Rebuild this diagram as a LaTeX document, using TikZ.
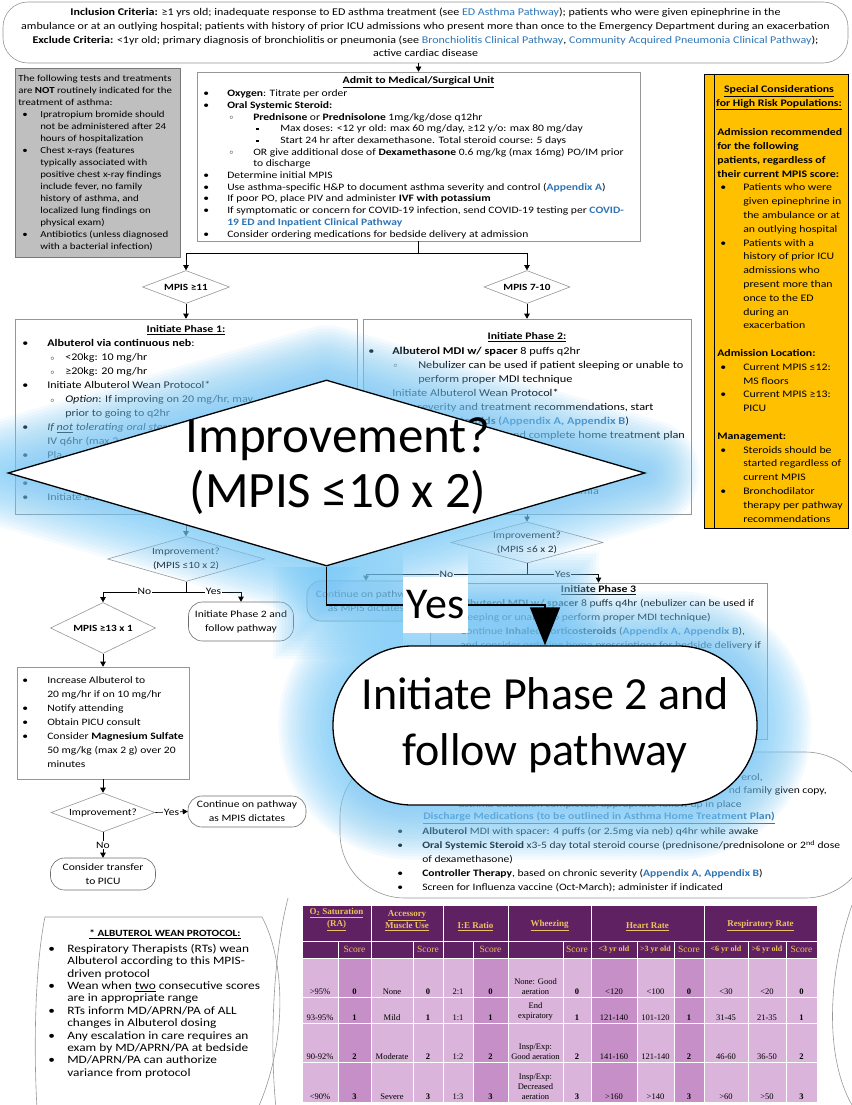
\documentclass[tikz,border=0pt]{standalone}
\usepackage{fontspec}
\setmainfont{Carlito}[FakeStretch=1.18]
\newfontfamily\plainfont{Carlito}
\newfontfamily\tabfont{Liberation Serif}
\newfontfamily\hdrfont[FakeStretch=1.165]{Carlito}
\usetikzlibrary{shapes.geometric,arrows.meta,positioning}

\definecolor{linkblue}{RGB}{46,117,182}
\definecolor{boxgray}{RGB}{150,150,150}
\definecolor{termgray}{RGB}{110,110,110}
\definecolor{notegray}{RGB}{191,191,191}
\definecolor{noteedge}{RGB}{120,120,120}
\definecolor{riskgold}{RGB}{255,192,0}
\definecolor{hdrpurple}{RGB}{96,33,98}
\definecolor{hdrgold}{RGB}{236,192,96}
\definecolor{cellL}{RGB}{218,180,218}
\definecolor{cellM}{RGB}{199,143,199}
\definecolor{glowblue}{RGB}{120,200,246}

\pgfdeclarelayer{glow}
\pgfdeclarelayer{front}
\pgfsetlayers{main,glow,front}

\newcommand{\fsz}[2]{\fontsize{#1}{#2}\selectfont}
\newcommand{\lk}[1]{{\color{linkblue}\textbf{#1}}}
\newcommand{\lkn}[1]{{\color{linkblue}#1}}
\newcommand{\itb}[2]{\hspace*{#1pt}\makebox[#2pt][l]{\textbullet}}
\newcommand{\itc}[2]{\hspace*{#1pt}\makebox[#2pt][l]{\raisebox{0.8pt}{$\scriptstyle\circ$}}}
\newcommand{\its}[2]{\hspace*{#1pt}\makebox[#2pt][l]{\rule[1.6pt]{2.2pt}{2.2pt}}}
\newcommand{\ind}[1]{\hspace*{#1pt}}

\tikzset{
  box/.style={draw=boxgray, fill=white, inner sep=0pt},
  txt/.style={inner sep=0pt, anchor=north west, align=left},
  frag/.style={inner sep=0pt, anchor=base east, font=\fsz{9.8}{14}},
  ttl/.style={inner sep=0pt, font=\fsz{10}{12}\bfseries},
  dia/.style={diamond, aspect=3.5, draw=boxgray, fill=white, inner sep=0pt, align=center, font=\fsz{9.6}{14}},
  term/.style={draw=termgray, fill=white, rounded corners=14pt, align=center, inner sep=0pt, font=\fsz{9.8}{14}},
  lbl/.style={fill=white, inner sep=1pt, font=\fsz{9.8}{12}},
  cell/.style={draw=white, line width=1pt},
  hdrtxt/.style={inner sep=0pt, anchor=south, align=center, text=hdrgold, font=\tabfont\bfseries\fsz{9}{12}},
  subtxt/.style={inner sep=0pt, text=hdrgold, font=\tabfont\fsz{9.5}{11}},
  celltxt/.style={inner sep=2pt, anchor=south, align=center, font=\tabfont\fsz{8.5}{10}},
  bigdia/.style={diamond, draw=black, fill=white, line width=1.3pt, inner sep=0pt},
  bigtxt/.style={inner sep=0pt, align=center, font=\plainfont\fsz{51}{55}},
  bigyes/.style={fill=white, inner sep=0pt, minimum width=65pt, minimum height=56pt, font=\plainfont\fsz{44}{50}},
  bigterm/.style={draw=black, fill=white, line width=1.3pt, rounded corners=79pt, minimum width=424pt, minimum height=159pt, align=center, inner sep=0pt, font=\plainfont\fsz{46}{56}},
  bigline/.style={black, line width=1.3pt}
}

\begin{document}
\begin{tikzpicture}[x=1pt,y=-1pt,>={Triangle[length=5pt,width=5.5pt]},line width=0.6pt]
\useasboundingbox (0,0) rectangle (851,1105);

% criteria
\node[draw=boxgray, fill=white, rounded corners=25pt, minimum width=845pt, minimum height=61pt, inner sep=0pt, align=center, font=\hdrfont\fsz{10.3}{13.8}] (hdr) at (425.5,32.5)
  {\textbf{Inclusion Criteria:} ≥1 yrs old; inadequate response to ED asthma treatment (see \lkn{ED Asthma Pathway}); patients who were given epinephrine in the\\
   ambulance or at an outlying hospital; patients with history of prior ICU admissions who present more than once to the Emergency Department during an exacerbation\\
   \textbf{Exclude Criteria:} <1yr old; primary diagnosis of bronchiolitis or pneumonia (see \lkn{Bronchiolitis Clinical Pathway}, \lkn{Community Acquired Pneumonia Clinical Pathway});\\
   active cardiac disease};

% not indicated
\node[draw=noteedge, fill=notegray, minimum width=165pt, minimum height=189pt, inner sep=0pt] (note) at (97.5,162.5) {};
\node[txt, font=\fsz{9.2}{12}] (notetxt) at (15,74.5)
  {\ind{3}The following tests and treatments\\
   \ind{3}are \textbf{NOT} routinely indicated for the\\
   \ind{3}treatment of asthma:\\
   \itb{7}{18}Ipratropium bromide should\\
   \ind{25}not be administered after 24\\
   \ind{25}hours of hospitalization\\
   \itb{7}{18}Chest x-rays (features\\
   \ind{25}typically associated with\\
   \ind{25}positive chest x-ray findings\\
   \ind{25}include fever, no family\\
   \ind{25}history of asthma, and\\
   \ind{25}localized lung findings on\\
   \ind{25}physical exam)\\
   \itb{7}{18}Antibiotics (unless diagnosed\\
   \ind{25}with a bacterial infection)};

% admit
\node[box, minimum width=443pt, minimum height=169pt] (admit) at (418.5,156.5) {};
\node[ttl] (admitttl) at (418.5,82) {\underline{Admit to Medical/Surgical Unit}};
\node[txt, font=\fsz{9.8}{11.7}] (admittxt) at (197,89.5)
  {\itb{6}{24}\textbf{Oxygen}: Titrate per order\\
   \itb{6}{24}\textbf{Oral Systemic Steroid:}\\
   \itc{32}{24}\textbf{Prednisone} or \textbf{Prednisolone} 1mg/kg/dose q12hr\\
   \its{59}{24}Max doses: <12 yr old: max 60 mg/day, ≥12 y/o: max 80 mg/day\\
   \its{59}{24}Start 24 hr after dexamethasone. Total steroid course: 5 days\\
   \itc{32}{24}OR give additional dose of \textbf{Dexamethasone} 0.6 mg/kg (max 16mg) PO/IM prior\\
   \ind{56}to discharge\\
   \itb{6}{24}Determine initial MPIS\\
   \itb{6}{24}Use asthma-specific H\&P to document asthma severity and control (\lk{Appendix A})\\
   \itb{6}{24}If poor PO, place PIV and administer \textbf{IVF with potassium}\\
   \itb{6}{24}If symptomatic or concern for COVID-19 infection, send COVID-19 testing per \lk{COVID-}\\
   \ind{30}\lk{19 ED and Inpatient Clinical Pathway}\\
   \itb{6}{24}Consider ordering medications for bedside delivery at admission};

% high risk
\node[draw=black, fill=riskgold, minimum width=144pt, minimum height=454pt, inner sep=0pt] (risk) at (776,301) {};
\draw ([xshift=11pt]risk.north west) -- ([xshift=11pt]risk.south west);
\node[ttl, align=center, font=\fsz{10}{13.8}\bfseries] (riskttl) at (779,98) {\underline{Special Considerations}\\\underline{for High Risk Populations:}};
\node[txt, font=\fsz{10}{13.8}] (risktxt) at (704,128.3)
  {\ind{13}\textbf{Admission recommended}\\
   \ind{13}\textbf{for the following}\\
   \ind{13}\textbf{patients, regardless of}\\
   \ind{13}\textbf{their current MPIS score:}\\
   \itb{16}{23}Patients who were\\
   \ind{39}given epinephrine in\\
   \ind{39}the ambulance or at\\
   \ind{39}an outlying hospital\\
   \itb{16}{23}Patients with a\\
   \ind{39}history of prior ICU\\
   \ind{39}admissions who\\
   \ind{39}present more than\\
   \ind{39}once to the ED\\
   \ind{39}during an\\
   \ind{39}exacerbation\\
   \mbox{}\\
   \ind{13}\textbf{Admission Location:}\\
   \itb{16}{23}Current MPIS ≤12:\\
   \ind{39}MS floors\\
   \itb{16}{23}Current MPIS ≥13:\\
   \ind{39}PICU\\
   \mbox{}\\
   \ind{13}\textbf{Management:}\\
   \itb{16}{23}Steroids should be\\
   \ind{39}started regardless of\\
   \ind{39}current MPIS\\
   \itb{16}{23}Bronchodilator\\
   \ind{39}therapy per pathway\\
   \ind{39}recommendations};

% score split
\node[dia, minimum width=87pt, minimum height=33pt, font=\fsz{9.5}{11}\bfseries] (d11) at (186,287) {MPIS ≥11};
\node[dia, minimum width=86pt, minimum height=33pt, font=\fsz{9.5}{11}\bfseries] (d710) at (527,287) {MPIS 7-10};

% phase 1
\node[box, minimum width=342pt, minimum height=195pt] (ph1) at (186,416.5) {};
\node[ttl] (ph1ttl) at (186,330) {\underline{Initiate Phase 1:}};
\node[txt, font=\fsz{10.2}{14}] (ph1txt) at (15,339.5)
  {\itb{7}{25}\textbf{Albuterol via continuous neb}:\\
   \itc{35}{15}<20kg: 10 mg/hr\\
   \itc{35}{15}≥20kg: 20 mg/hr\\
   \itb{7}{25}Initiate Albuterol Wean Protocol*\\
   \itc{35}{15}\textit{Option}: If improving on 20 mg/hr, may\\
   \ind{50}prior to going to q2hr\\
   \itb{7}{25}\textit{If \underline{not} tolerating oral steroids}\\
   \ind{32}IV q6hr (max 2\\
   \itb{7}{25}Pla\\
   \mbox{}\\
   \itb{7}{25}Vi\\
   \itb{7}{25}Initiate asthma};

% phase 2
\node[box, minimum width=328pt, minimum height=195pt] (ph2) at (527,416.5) {};
\node[ttl] (ph2ttl) at (527,337) {\underline{Initiate Phase 2:}};
\node[txt, font=\fsz{10.4}{14}] (ph2txt) at (363,346.5)
  {\itb{5}{24}\textbf{Albuterol MDI w/ spacer} 8 puffs q2hr\\
   \itc{30}{25}Nebulizer can be used if patient sleeping or unable to\\
   \ind{55}perform proper MDI technique\\
   \ind{29}Initiate Albuterol Wean Protocol*\\
   \ind{54}severity and treatment recommendations, start\\
   \ind{92}\textbf{steroids} (\lk{Appendix A, Appendix B})\\
   \ind{144}and complete home treatment plan\\
   \mbox{}\\ \mbox{}\\ \mbox{}\\
   \ind{206}xemia};

% phase 1 outcome
\node[dia, minimum width=157pt, minimum height=45pt] (imp1) at (186,559) {Improvement?\\(MPIS ≤10 x 2)};
\node[dia, minimum width=105pt, minimum height=51pt, font=\fsz{9.5}{11}\bfseries] (d13) at (103,628) {MPIS ≥13 x 1};
\node[term, minimum width=105pt, minimum height=39pt] (ini2) at (241,621.5) {Initiate Phase 2 and\\follow pathway};
\node[box, minimum width=172pt, minimum height=112pt] (esc) at (103,723) {};
\node[txt, font=\fsz{9.8}{14}] (esctxt) at (17,676.5)
  {\itb{5}{25}Increase Albuterol to\\
   \ind{30}20 mg/hr if on 10 mg/hr\\
   \itb{5}{25}Notify attending\\
   \itb{5}{25}Obtain PICU consult\\
   \itb{5}{25}Consider \textbf{Magnesium Sulfate}\\
   \ind{30}50 mg/kg (max 2 g) over 20\\
   \ind{30}minutes};
\node[dia, minimum width=104pt, minimum height=39pt] (imp3) at (103,812.5) {Improvement?};
\node[term, minimum width=118pt, minimum height=31pt] (cont1) at (247,811.5) {Continue on pathway\\as MPIS dictates};
\node[term, minimum width=105pt, minimum height=32pt] (xfer) at (103,874) {Consider transfer\\to PICU};

% phase 2 outcome
\node[dia, minimum width=152pt, minimum height=40pt] (imp2) at (527,542.5) {Improvement?\\(MPIS ≤6 x 2)};
\node[term, minimum width=118pt, minimum height=40pt] (cont2) at (366,601) {Continue on pathway\\as MPIS dictates};
\node[box, minimum width=337pt, minimum height=156pt] (ph3) at (598.5,661) {};
\node[ttl] (ph3ttl) at (598.5,590) {\underline{Initiate Phase 3}};
\node[txt, font=\fsz{9.8}{14}] (ph3txt) at (430,599.5)
  {\itb{6}{24}\textbf{Albuterol MDI w/ spacer} 8 puffs q4hr (nebulizer can be used if\\
   \ind{30}sleeping or unable to perform proper MDI technique)\\
   \itb{6}{24}Continue \textbf{Inhaled Corticosteroids} (\lk{Appendix A, Appendix B}),\\
   \ind{30}and consider ordering home prescriptions for bedside delivery if};

% discharge
\node[draw=boxgray, fill=white, rounded corners=65pt, minimum width=530pt, minimum height=146pt] (dchg) at (605,825) {};
\node[frag] (dch1) at (763,780.5) {erol,};
\node[frag] (dch2) at (827,793.5) {nd family given copy,};
\node[frag] (dch3) at (742,807.5) {asthma education completed, appropriate follow up in place};
\node[ttl, text=linkblue] (dchttl) at (599,818) {\underline{Discharge Medications (to be outlined in Asthma Home Treatment Plan)}};
\node[txt, font=\fsz{9.8}{14}] (dchtxt) at (340,827.5)
  {\itb{57}{25}\textbf{Albuterol} MDI with spacer: 4 puffs (or 2.5mg via neb) q4hr while awake\\
   \itb{57}{25}\textbf{Oral Systemic Steroid} x3-5 day total steroid course (prednisone/prednisolone or 2\textsuperscript{nd} dose\\
   \ind{82}of dexamethasone)\\
   \itb{57}{25}\textbf{Controller Therapy}, based on chronic severity (\lk{Appendix A, Appendix B})\\
   \itb{57}{25}Screen for Influenza vaccine (Oct-March); administer if indicated};

% wean protocol
\draw[boxgray] (37,1108) .. controls (33,1040) and (36,960) .. (45,917) -- (262,917) .. controls (285,960) and (288,1040) .. (258,1108);
\draw[boxgray] (288,898) .. controls (272,960) and (270,1050) .. (276,1108);
\draw[boxgray] (852,905) .. controls (826,980) and (826,1060) .. (852,1105);
\node[ttl, font=\fsz{9.5}{12}\bfseries] (weanttl) at (165,934) {\underline{* ALBUTEROL WEAN PROTOCOL:}};
\node[txt, font=\fsz{11.3}{12.4}] (weantxt) at (0,943.8)
  {\itb{48}{19}Respiratory Therapists (RTs) wean\\
   \ind{67}Albuterol according to this MPIS-\\
   \ind{67}driven protocol\\
   \itb{48}{19}Wean when \underline{two} consecutive scores\\
   \ind{67}are in appropriate range\\
   \itb{48}{19}RTs inform MD/APRN/PA of ALL\\
   \ind{67}changes in Albuterol dosing\\
   \itb{48}{19}Any escalation in care requires an\\
   \ind{67}exam by MD/APRN/PA at bedside\\
   \itb{48}{19}MD/APRN/PA can authorize\\
   \ind{67}variance from protocol};

% score table
\foreach \xa/\xb/\ct in {302/371/{\underline{O\textsubscript{2} Saturation}\\\underline{(RA)}},371/443/{\underline{Accessory}\\\underline{Muscle Use}},443/508/{\underline{I:E Ratio}},508/591/{\underline{Wheezing}},591/704/{\underline{Heart Rate}},704/817/{\underline{Respiratory Rate}}}{
  \draw[cell, fill=hdrpurple] (\xa,905) rectangle (\xb,941);
  \node[hdrtxt] (th\xa) at ({(\xa+\xb)/2},931) {\ct};
}
\foreach \xa/\xb/\ct in {302/338/{},338/371/Score,371/413/{},413/443/Score,443/473/{},473/508/Score,508/563/{},563/591/Score,591/637/{\textbf{\fsz{8}{10}<3 yr old}},637/674/{\textbf{\fsz{8}{10}>3 yr old}},674/704/Score,704/748/{\textbf{\fsz{8}{10}<6 yr old}},748/786/{\textbf{\fsz{8}{10}>6 yr old}},786/817/Score}{
  \draw[cell, fill=hdrpurple] (\xa,941) rectangle (\xb,958);
  \node[subtxt] (ts\xa) at ({(\xa+\xb)/2},949.5) {\ct};
}
\foreach \xa/\xb/\cf/\ra/\rb/\rc/\rd in {302/338/cellL/{>95\%}/{93-95\%}/{90-92\%}/{<90\%},
    371/413/cellL/None/Mild/Moderate/Severe,
    443/473/cellL/2:1/1:1/1:2/1:3,
    508/563/cellL/{None: Good\\aeration}/{End\\expiratory}/{Insp/Exp:\\Good aeration}/{Insp/Exp:\\Decreased\\aeration},
    591/637/cellM/{<120}/{121-140}/{141-160}/{>160},
    637/674/cellL/{<100}/{101-120}/{121-140}/{>140},
    704/748/cellL/{<30}/{31-45}/{46-60}/{>60},
    748/786/cellL/{<20}/{21-35}/{36-50}/{>50}}{
  \foreach \ya/\yb/\ct in {958/997/\ra,997/1023/\rb,1023/1062/\rc,1062/1102/\rd}{
    \draw[cell, fill=\cf] (\xa,\ya) rectangle (\xb,\yb);
    \node[celltxt] (tv\xa-\ya) at ({(\xa+\xb)/2},\yb) {\ct};
  }
}
\foreach \xa/\xb/\cf in {338/371/cellM,413/443/cellL,473/508/cellM,563/591/cellL,674/704/cellM,786/817/cellL}{
  \foreach \ya/\yb/\ct in {958/997/0,997/1023/1,1023/1062/2,1062/1102/3}{
    \draw[cell, fill=\cf] (\xa,\ya) rectangle (\xb,\yb);
    \node[celltxt, font=\tabfont\bfseries\fsz{8.5}{10}] (tc\xa-\ya) at ({(\xa+\xb)/2},\yb) {\ct};
  }
}

% connectors
\draw[->] (hdr.south -| admit.north) -- (admit.north);
\draw (admit.south) -- ++(0,12) coordinate (sp1);
\draw[->] (sp1) -| (d11.north);
\draw[->] (sp1) -| (d710.north);
\draw[->] (d11.south) -- (ph1.north);
\draw[->] (d710.south) -- (ph2.north);
\draw[->] (ph1.south) -- (imp1.north);
\draw (imp1.south) -- ++(0,10) coordinate (sp2);
\draw[->] (sp2) -| node[lbl, pos=0.25] {No} (d13.north);
\draw[->] (sp2) -| node[lbl, pos=0.25] {Yes} (ini2.north);
\draw[->] (d13.south) -- (esc.north);
\draw[->] (esc.south) -- (imp3.north);
\draw[->] (imp3.east) -- node[lbl] {Yes} (cont1.west);
\draw[->] (imp3.south) -- node[lbl] {No} (xfer.north);
\draw[->] (ph2.south) -- (imp2.north);
\draw (imp2.south) -- ++(0,10.5) coordinate (sp3);
\draw[->] (sp3) -| node[lbl, pos=0.25] {No} (cont2.north);
\draw[->] (sp3) -| node[lbl, pos=0.25] {Yes} (ph3.north);

% enlarged overlay
\begin{pgfonlayer}{front}
\node[bigdia, minimum width=637pt, minimum height=186pt] (bigimp) at (326.5,473) {};
\node[bigtxt] (bigimptxt) at (338,466) {Improvement?\\(MPIS ≤10 x 2)};
\node[bigyes] (bigyes) at (435.5,605) {Yes};
\node[bigterm] (bigph2) at (545,725.5) {Initiate Phase 2 and\\follow pathway};
\draw[bigline] (bigimp.south) |- (bigyes.west);
\draw[bigline, -{Triangle[length=38pt,width=30pt]}] (bigyes.east) -| (bigph2.north);
\end{pgfonlayer}

\begin{pgfonlayer}{glow}
\foreach \w in {6,12,...,108}{
  \draw[glowblue, line width=\w pt, opacity=0.075, line join=round] (bigimp.west) -- (bigimp.north) -- (bigimp.east) -- (bigimp.south) -- cycle;
  \draw[glowblue, line width=\w pt, opacity=0.075] (bigimp.south) |- (bigyes.west) (bigyes.east) -| (bigph2.north);
  \draw[glowblue, line width=\w pt, opacity=0.075, rounded corners=79pt] (bigph2.north west) rectangle (bigph2.south east);
}
\end{pgfonlayer}

\end{tikzpicture}
\end{document}
